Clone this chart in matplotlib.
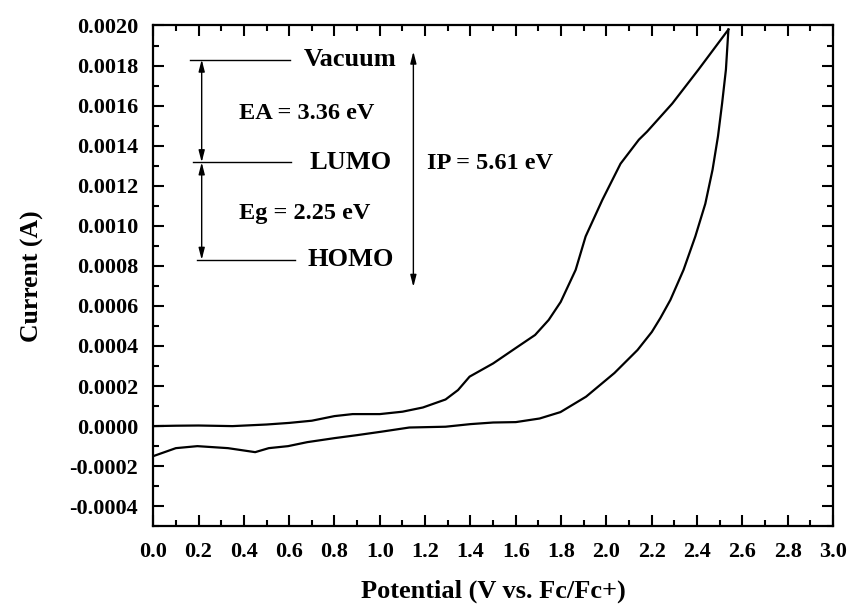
import numpy as np
import matplotlib.pyplot as plt
from matplotlib.ticker import MultipleLocator, FormatStrFormatter

plt.rcParams['font.family'] = ['Liberation Serif', 'DejaVu Serif']
plt.rcParams['font.weight'] = 'bold'

# forward (oxidation) scan
fwd_v = [0.0, 0.1, 0.2, 0.35, 0.5, 0.6, 0.7, 0.8, 0.88, 1.0, 1.1, 1.19, 1.29, 1.345,
         1.396, 1.5, 1.6, 1.685, 1.745, 1.798, 1.864, 1.908, 1.982, 2.062, 2.143,
         2.179, 2.29, 2.406, 2.538]
fwd_i = [0.0, 0.000002, 0.000003, 0.0, 0.000008, 0.000016, 0.000027, 0.00005, 0.00006,
         0.00006, 0.000072, 0.000093, 0.000133, 0.00018, 0.000247, 0.000313, 0.00039,
         0.000455, 0.00053, 0.00062, 0.00078, 0.000947, 0.00113, 0.00131, 0.00143,
         0.00147, 0.00161, 0.00178, 0.00198]

# reverse scan
rev_v = [2.538, 2.527, 2.51, 2.492, 2.468, 2.436, 2.392, 2.34, 2.282, 2.238, 2.2,
         2.137, 2.035, 1.91, 1.797, 1.705, 1.6, 1.5, 1.4, 1.29, 1.13, 1.006, 0.9, 0.8,
         0.68, 0.595, 0.51, 0.45, 0.33, 0.195, 0.1, 0.0]
rev_i = [0.00198, 0.00178, 0.00161, 0.001447, 0.00128, 0.00111, 0.000947, 0.00078,
         0.00063, 0.00054, 0.00047, 0.00038, 0.000265, 0.000147, 0.00007, 0.000038,
         0.00002, 0.000018, 0.00001, -0.000003, -0.000007, -0.000028, -0.000045,
         -0.00006, -0.00008, -0.0001, -0.00011, -0.00013, -0.00011, -0.0001, -0.00011,
         -0.00015]

# energy levels (drawn on the current axis)
lvl_names = ["Vacuum", "LUMO", "HOMO"]
lvl_y = [0.00183, 0.001317, 0.00083]
lvl_x0 = [0.163, 0.176, 0.192]
lvl_x1 = [0.603, 0.61, 0.625]

fig = plt.figure(figsize=(8.51, 6.07), dpi=100)
ax = fig.add_axes([0.18, 0.133, 0.799, 0.825])

ax.plot(fwd_v, fwd_i, color="black", lw=1.6)
ax.plot(rev_v, rev_i, color="black", lw=1.6)

for name, y, x0, x1 in zip(lvl_names, lvl_y, lvl_x0, lvl_x1):
    ax.plot([x0, x1], [y, y], color="black", lw=1.0)
    ax.text(0.87, y, name, fontsize=19, fontweight="bold", ha="center", va="center")

arrow = dict(arrowstyle="<|-|>,head_length=0.7,head_width=0.18", color="black",
             lw=1.0, shrinkA=0, shrinkB=0)
ax.annotate("", xy=(0.214, lvl_y[0]), xytext=(0.214, lvl_y[1]), arrowprops=arrow)
ax.annotate("", xy=(0.214, lvl_y[1]), xytext=(0.214, lvl_y[2]), arrowprops=arrow)
ax.annotate("", xy=(1.148, 0.00187), xytext=(1.148, 0.000695), arrowprops=arrow)

ax.text(0.676, 0.00156, "EA = 3.36 eV", fontsize=17.5, fontweight="bold", ha="center", va="center")
ax.text(0.669, 0.00106, "Eg = 2.25 eV", fontsize=17.5, fontweight="bold", ha="center", va="center")
ax.text(1.21, 0.001313, "IP = 5.61 eV", fontsize=17.5, fontweight="bold", ha="left", va="center")

ax.set_xlim(0.0, 3.0)
ax.set_ylim(-0.0005, 0.0020)
ax.xaxis.set_major_locator(MultipleLocator(0.2))
ax.xaxis.set_minor_locator(MultipleLocator(0.1))
ax.yaxis.set_major_locator(MultipleLocator(0.0002))
ax.yaxis.set_minor_locator(MultipleLocator(0.0001))
ax.xaxis.set_major_formatter(FormatStrFormatter("%.1f"))
ax.yaxis.set_major_formatter(FormatStrFormatter("%.4f"))

ax.tick_params(which="major", direction="in", length=8, width=1.5, labelsize=16, pad=11)
ax.tick_params(which="minor", direction="in", length=4, width=1.5)
ax.tick_params(which="both", top=True, right=True)
for lab in ax.get_xticklabels() + ax.get_yticklabels():
    lab.set_fontweight("bold")
for s in ax.spines.values():
    s.set_linewidth(1.6)

ax.set_xlabel("Potential (V vs. Fc/Fc+)", fontsize=19, fontweight="bold", labelpad=13)
ax.set_ylabel("Current (A)", fontsize=18.5, fontweight="bold", labelpad=18)

fig.savefig("out.png", dpi=100)
